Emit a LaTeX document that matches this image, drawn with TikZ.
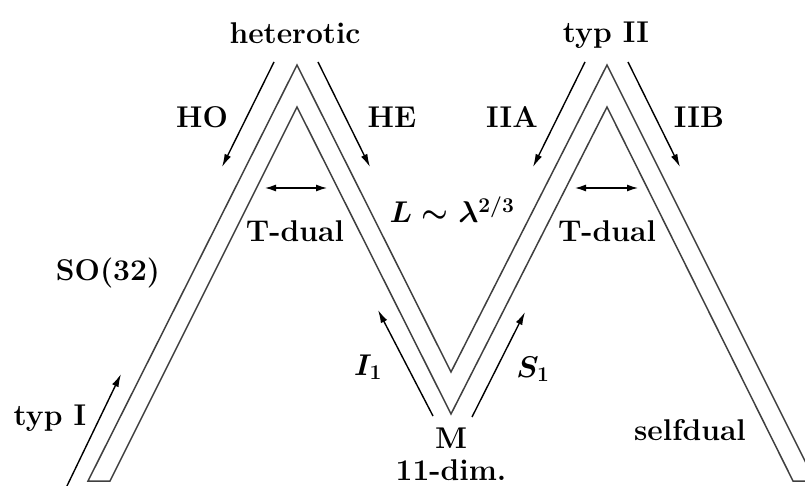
\documentclass[tikz,border=0pt]{standalone}
\usepackage{fix-cm}
\usepackage{fontspec}
\usetikzlibrary{arrows.meta}
\tikzset{
  band/.style={draw=black!75, line width=1.5pt, line join=miter},
  flow/.style={draw=black, line width=1.4pt, -{Latex[length=13pt,width=7pt]}},
  dualarrow/.style={draw=black, line width=1.3pt, {Latex[length=11pt,width=7pt]}-{Latex[length=11pt,width=7pt]}},
  lbl/.style={font=\fontsize{30}{36}\selectfont\bfseries\boldmath, inner sep=0pt, anchor=base}
}
\begin{document}
\begin{tikzpicture}[x=1pt,y=-1pt]
\clip (0,0) rectangle (805,486);
% band
\draw[band] (88,481) -- (297,65) -- (451,372) -- (607,65) -- (815,481)
  -- (793,481) -- (607,107) -- (451,414) -- (297,107) -- (110,481) -- cycle;
% labels
\node[lbl] (het) at (295,44) {heterotic};
\node[lbl] (typII) at (606,43) {typ II};
\node[lbl] (HO) at (202,128) {HO};
\node[lbl] (HE) at (392,128) {HE};
\node[lbl] (IIA) at (512,128) {IIA};
\node[lbl] (IIB) at (699,128) {IIB};
\node[lbl] (TdL) at (295,242) {T-dual};
\node[lbl] (TdR) at (607,242) {T-dual};
\node[lbl] (L) at (452,223) {$L\sim\lambda^{2/3}$};
\node[lbl] (SO) at (108,280) {SO(32)};
\node[lbl] (typI) at (50,425) {typ I};
\node[lbl] (I1) at (368,375) {$I_1$};
\node[lbl] (S1) at (533,377) {$S_1$};
\node[lbl] (M) at (451,448) {M};
\node[lbl] (dim) at (451,480) {11-dim.};
\node[lbl] (self) at (690,440) {selfdual};
% arrows
\coordinate (hoA) at (274,62); \coordinate (hoB) at (222,167);
\coordinate (heA) at (318,62); \coordinate (heB) at (370,167);
\coordinate (iiaA) at (585,62); \coordinate (iiaB) at (533,167);
\coordinate (iibA) at (628,62); \coordinate (iibB) at (680,167);
\coordinate (tlA) at (265,188); \coordinate (tlB) at (327,188);
\coordinate (trA) at (575,188); \coordinate (trB) at (638,188);
\coordinate (tyA) at (66,488); \coordinate (tyB) at (121,374);
\coordinate (iA) at (433,416); \coordinate (iB) at (378,310);
\coordinate (sA) at (472,417); \coordinate (sB) at (525,312);
\draw[flow] (hoA) -- (hoB);
\draw[flow] (heA) -- (heB);
\draw[flow] (iiaA) -- (iiaB);
\draw[flow] (iibA) -- (iibB);
\draw[dualarrow] (tlA) -- (tlB);
\draw[dualarrow] (trA) -- (trB);
\draw[flow] (tyA) -- (tyB);
\draw[flow] (iA) -- (iB);
\draw[flow] (sA) -- (sB);
\end{tikzpicture}
\end{document}
